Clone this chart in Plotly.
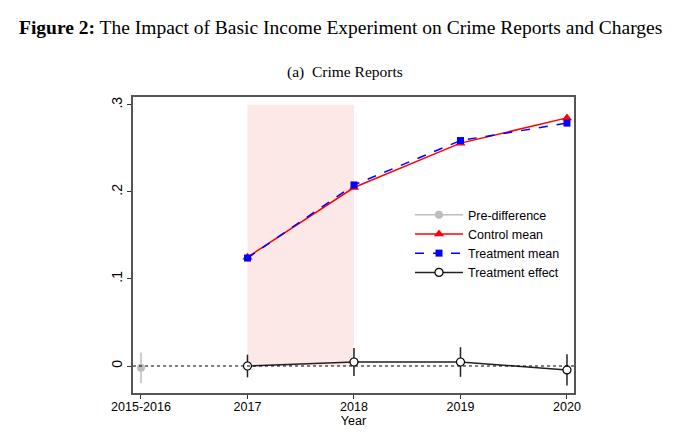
import plotly.graph_objects as go

# x positions (category index) and tick labels
x_pos = [0, 1, 2, 3, 4]
x_labels = ["2015-2016", "2017", "2018", "2019", "2020"]

years = [1, 2, 3, 4]
control_mean = [0.125, 0.205, 0.256, 0.285]
treatment_mean = [0.124, 0.208, 0.259, 0.279]

effect = [0.0, 0.0046, 0.0046, -0.0045]
effect_err = [0.013, 0.016, 0.017, 0.018]

pre_diff_x = [0]
pre_diff = [-0.002]
pre_diff_err = [0.0175]

fig = go.Figure()

# shaded treatment period 2017-2018
fig.add_shape(type="rect", x0=1, x1=2, y0=0, y1=0.3, xref="x", yref="y",
              fillcolor="#fde8e8", line=dict(width=0), layer="below")

# dotted zero line
fig.add_shape(type="line", x0=-0.075, x1=4.066, y0=0, y1=0, xref="x", yref="y",
              line=dict(color="black", width=1.2, dash="dot"))

fig.add_trace(go.Scatter(x=pre_diff_x, y=pre_diff, mode="lines+markers",
                         name="Pre-difference",
                         line=dict(color="#bdbdbd", width=1.5),
                         marker=dict(symbol="circle", size=8, color="#bdbdbd"),
                         error_y=dict(type="data", array=pre_diff_err, width=0,
                                      color="#bdbdbd", thickness=1.5)))

fig.add_trace(go.Scatter(x=years, y=control_mean, mode="lines+markers",
                         name="Control mean",
                         line=dict(color="#ff0000", width=1.5),
                         marker=dict(symbol="triangle-up", size=9, color="#ff0000")))

fig.add_trace(go.Scatter(x=years, y=treatment_mean, mode="lines+markers",
                         name="Treatment mean",
                         line=dict(color="#0000ff", width=1.5, dash="dash"),
                         marker=dict(symbol="square", size=7, color="#0000ff")))

fig.add_trace(go.Scatter(x=years, y=effect, mode="lines+markers",
                         name="Treatment effect",
                         line=dict(color="#222222", width=1.5),
                         marker=dict(symbol="circle", size=8, color="white",
                                     line=dict(color="black", width=1.2)),
                         error_y=dict(type="data", array=effect_err, width=0,
                                      color="#222222", thickness=1.5)))

# page has an 8px body margin, so margins are offset by 8px
W, H = 680, 433
ml, mr, mt, mb = 125, 114, 89, 48
plot_w = W - ml - mr
plot_h = H - mt - mb


def px_x(px):
    return (px - 8 - ml) / plot_w


def px_y(py):
    return (H - mb - (py - 8)) / plot_h


fig.update_layout(
    width=W, height=H,
    margin=dict(l=ml, r=mr, t=mt, b=mb),
    paper_bgcolor="white", plot_bgcolor="white",
    font=dict(family="Liberation Sans, Arial, sans-serif", size=12, color="black"),
    showlegend=True,
    legend=dict(x=px_x(410), y=px_y(200), xanchor="left", yanchor="top",
                bgcolor="rgba(0,0,0,0)", itemwidth=48,
                font=dict(size=12.5), tracegroupgap=0),
    annotations=[
        dict(text="<b>Figure 2:</b> The Impact of Basic Income Experiment on Crime Reports and Charges",
             x=px_x(340), y=px_y(27), xref="paper", yref="paper", showarrow=False,
             yanchor="middle",
             font=dict(family="Liberation Serif, DejaVu Serif, serif", size=19.5)),
        dict(text="(a)  Crime Reports",
             x=px_x(345), y=px_y(72), xref="paper", yref="paper", showarrow=False,
             yanchor="middle",
             font=dict(family="Liberation Serif, DejaVu Serif, serif", size=15.5)),
    ],
)

fig.update_xaxes(range=[-0.075, 4.066], tickvals=x_pos, ticktext=x_labels,
                 ticks="outside", ticklen=4, tickcolor="#333",
                 ticklabelstandoff=-3,
                 showline=True, linecolor="#555", linewidth=1.5, mirror=True,
                 showgrid=False, zeroline=False,
                 title=dict(text="Year", standoff=0, font=dict(size=12.5)),
                 tickfont=dict(size=12.5))
fig.update_yaxes(range=[-0.031, 0.309], tickvals=[0, 0.1, 0.2, 0.3],
                 ticktext=["0", ".1", ".2", ".3"], tickangle=-90,
                 ticks="outside", ticklen=4, tickcolor="#333",
                 showline=True, linecolor="#555", linewidth=1.5, mirror=True,
                 showgrid=False, zeroline=False, tickfont=dict(size=14))

fig.write_html("out.html")
